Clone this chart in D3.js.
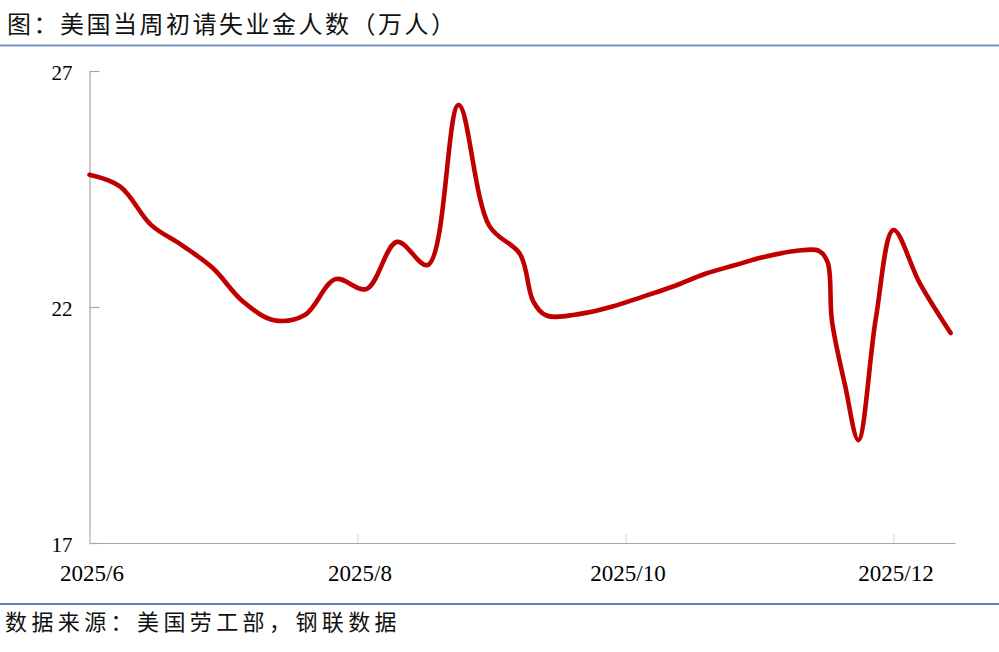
<!DOCTYPE html>
<html>
<head>
<meta charset="utf-8">
<script src="https://cdn.jsdelivr.net/npm/d3@7/dist/d3.min.js"></script>
<style>
  html, body { margin: 0; padding: 0; background: #ffffff; }
  svg { display: block; }
</style>
</head>
<body>
<svg id="chart" width="999" height="652"></svg>
<script>
// ---- data ----
const titleText = "图：美国当周初请失业金人数（万人）";
const sourceText = "数据来源：美国劳工部，钢联数据";

const dates = [
  "2025-06-01","2025-06-08","2025-06-15","2025-06-22","2025-06-29",
  "2025-07-06","2025-07-13","2025-07-20","2025-07-27","2025-08-03",
  "2025-08-10","2025-08-17","2025-08-24","2025-08-31","2025-09-07",
  "2025-09-10","2025-09-13","2025-09-21","2025-09-28","2025-10-05",
  "2025-10-12","2025-10-19","2025-10-26","2025-11-02","2025-11-09",
  "2025-11-14","2025-11-16","2025-11-17","2025-11-20","2025-11-23",
  "2025-11-27","2025-12-01","2025-12-07","2025-12-14"
];
const claims = [
  24.80, 24.55, 23.74, 23.31, 22.83,
  22.11, 21.72, 21.83, 22.59, 22.38,
  23.38, 22.89, 26.28, 23.72, 23.12,
  22.12, 21.82, 21.86, 22.01, 22.22,
  22.44, 22.70, 22.89, 23.07, 23.19,
  23.19, 22.95, 21.70, 20.33, 19.18,
  21.77, 23.63, 22.50, 21.45
];

const xDomain = ["2025-06-01", "2025-12-15"];
const xTickDates = ["2025-06-01", "2025-08-01", "2025-10-01", "2025-12-01"];
const xTickLabels = ["2025/6", "2025/8", "2025/10", "2025/12"];
const yDomain = [17, 27];
const yTicks = [17, 22, 27];

// ---- layout ----
const parse = d3.timeParse("%Y-%m-%d");
const svg = d3.select("#chart");
const plot = { left: 89.5, right: 955, top: 71, bottom: 543 };

const x = d3.scaleTime()
  .domain(xDomain.map(parse))
  .range([plot.left, plot.right]);
const y = d3.scaleLinear()
  .domain(yDomain)
  .range([plot.bottom, plot.top]);

svg.append("rect").attr("width", 999).attr("height", 652).attr("fill", "#ffffff");

// title
svg.append("text")
  .attr("x", 7).attr("y", 33)
  .attr("font-family", "'Noto Sans CJK SC', sans-serif")
  .attr("font-size", 24)
  .attr("letter-spacing", 2.5)
  .attr("fill", "#111")
  .text(titleText);
svg.append("line")
  .attr("x1", 0).attr("x2", 999).attr("y1", 45.5).attr("y2", 45.5)
  .attr("stroke", "#7393C4").attr("stroke-width", 1.8);

// footer
svg.append("line")
  .attr("x1", 0).attr("x2", 999).attr("y1", 604).attr("y2", 604)
  .attr("stroke", "#2A55A0").attr("stroke-width", 1.5);
svg.append("text")
  .attr("x", 5).attr("y", 630)
  .attr("font-family", "'Noto Sans CJK SC', sans-serif")
  .attr("font-size", 22)
  .attr("letter-spacing", 4.4)
  .attr("fill", "#111")
  .text(sourceText);

// y axis
const yAxis = d3.axisLeft(y)
  .tickValues(yTicks)
  .tickFormat(d3.format("d"))
  .tickSizeInner(-10)
  .tickSizeOuter(0)
  .tickPadding(17);
const gy = svg.append("g")
  .attr("transform", `translate(${plot.left},0)`)
  .call(yAxis);
gy.select(".domain").attr("stroke", "#A6A6A6").attr("stroke-width", 1.2);
gy.selectAll(".tick line").attr("stroke", "#A6A6A6").attr("stroke-width", 1.2);
gy.selectAll(".tick text")
  .attr("font-family", "'Liberation Serif', 'Times New Roman', serif")
  .attr("font-size", 21)
  .attr("fill", "#000")
  .attr("dy", "0.42em");

// x axis
const xAxis = d3.axisBottom(x)
  .tickValues(xTickDates.map(parse))
  .tickFormat((d, i) => xTickLabels[i])
  .tickSizeInner(-9)
  .tickSizeOuter(0)
  .tickPadding(22);
const gx = svg.append("g")
  .attr("transform", `translate(0,${plot.bottom})`)
  .call(xAxis);
gx.select(".domain").attr("stroke", "#A6A6A6").attr("stroke-width", 1.2);
gx.selectAll(".tick line").attr("stroke", "#D9D9D9").attr("stroke-width", 1.2);
gx.selectAll(".tick text")
  .attr("font-family", "'Liberation Serif', 'Times New Roman', serif")
  .attr("font-size", 23)
  .attr("fill", "#000")
  .attr("dx", 2);

// line
const series = dates.map((d, i) => ({ date: parse(d), value: claims[i] }));
const line = d3.line()
  .x(d => x(d.date))
  .y(d => y(d.value))
  .curve(d3.curveCatmullRom.alpha(0.5));
svg.append("path")
  .datum(series)
  .attr("d", line)
  .attr("fill", "none")
  .attr("stroke", "#C00000")
  .attr("stroke-width", 4.6)
  .attr("stroke-linejoin", "round")
  .attr("stroke-linecap", "round");
</script>
</body>
</html>
